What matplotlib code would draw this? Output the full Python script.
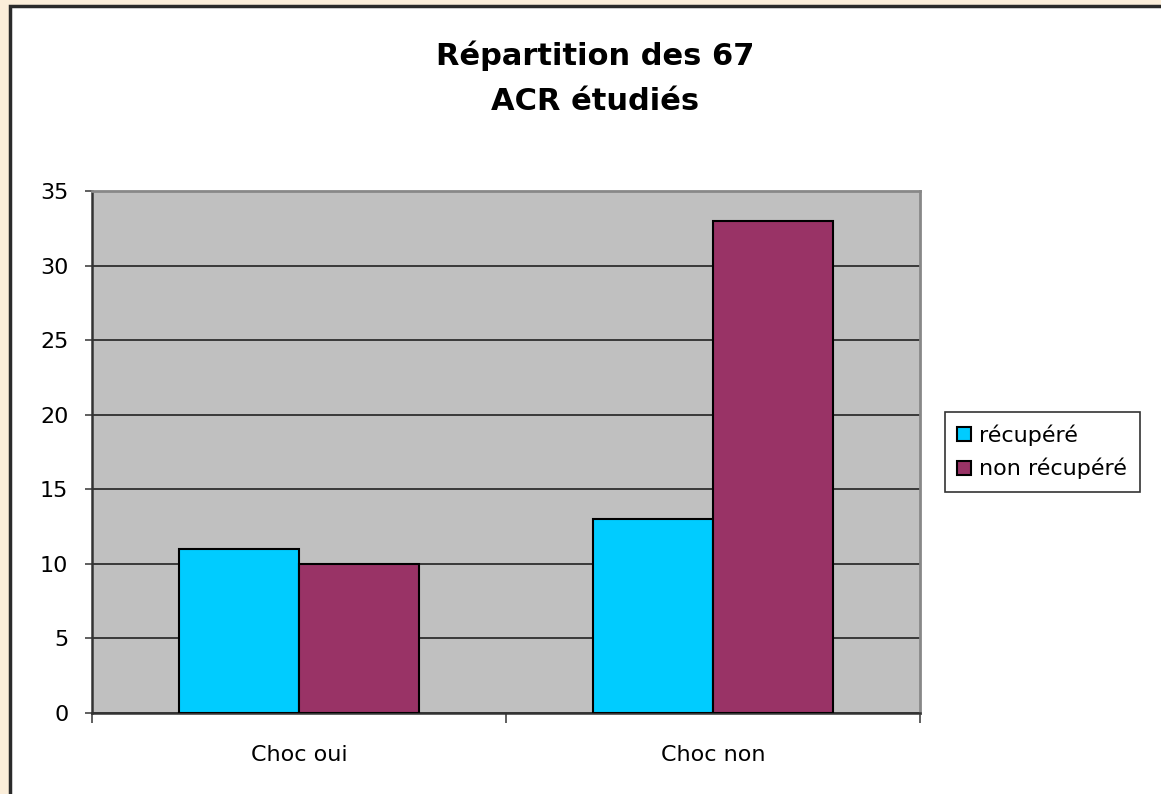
import numpy as np
import matplotlib.pyplot as plt
from matplotlib.patches import Rectangle, Patch

# data
categories = ["Choc oui", "Choc non"]
recupere = [11, 13]
non_recupere = [10, 33]
series_names = ["récupéré", "non récupéré"]
y_ticks = [0, 5, 10, 15, 20, 25, 30, 35]

plt.rcParams['font.family'] = ['DejaVu Sans']

W, H = 1161, 794
fig = plt.figure(figsize=(W/100, H/100), dpi=100)
fig.patch.set_facecolor('#FBEEDA')

# white chart panel with dark frame, running off the right and bottom edges
panel = Rectangle((10/W, -0.05), 1.2, 1 - 6/H + 0.05, transform=fig.transFigure,
                  facecolor='white', edgecolor='#2a2a2a', lw=2.5, zorder=-10)
fig.patches.append(panel)

ax = fig.add_axes([92/W, 1 - 713/H, (920-92)/W, (713-191)/H])
ax.set_facecolor('#C0C0C0')

x = np.arange(len(categories))
w = 0.29
ax.bar(x - w/2, recupere, w, color='#00CCFF', edgecolor='black', lw=1.5, zorder=3)
ax.bar(x + w/2, non_recupere, w, color='#993366', edgecolor='black', lw=1.5, zorder=3)

ax.set_xlim(-0.5, 1.5)
ax.set_ylim(0, 35)
ax.set_yticks(y_ticks)
ax.yaxis.grid(True, color='#222222', lw=1.2, zorder=1)
ax.set_axisbelow(True)

ax.set_xticks(x)
ax.set_xticklabels(categories)
ax.set_xticks([-0.5, 0.5, 1.5], minor=True)
ax.tick_params(axis='x', which='major', length=0, pad=23, labelsize=16)
ax.tick_params(axis='x', which='minor', length=7, width=1.2, color='#444444', direction='out')
ax.tick_params(axis='y', length=5, width=1.2, color='#444444', pad=12, labelsize=16)

for s in ['top', 'right']:
    ax.spines[s].set_color('#888888')
    ax.spines[s].set_linewidth(2)
for s in ['left', 'bottom']:
    ax.spines[s].set_color('#333333')
    ax.spines[s].set_linewidth(1.8)

fig.text(595/W, 1 - 78/H, "Répartition des 67\nACR étudiés", ha='center', va='center',
         fontsize=22, fontweight='bold', linespacing=1.7)

handles = [Patch(facecolor='#00CCFF', edgecolor='black', lw=1.5),
           Patch(facecolor='#993366', edgecolor='black', lw=1.5)]
leg = fig.legend(handles, series_names, loc='upper left', bbox_to_anchor=(945/W, 1 - 412/H),
                 fontsize=16, frameon=True, fancybox=False, shadow=False,
                 handlelength=0.6, handleheight=0.6, handletextpad=0.4,
                 labelspacing=0.55, borderpad=0.55, borderaxespad=0)
leg.get_frame().set_edgecolor('black')
leg.get_frame().set_linewidth(1.2)

fig.savefig('out.png', dpi=100, facecolor=fig.get_facecolor())
